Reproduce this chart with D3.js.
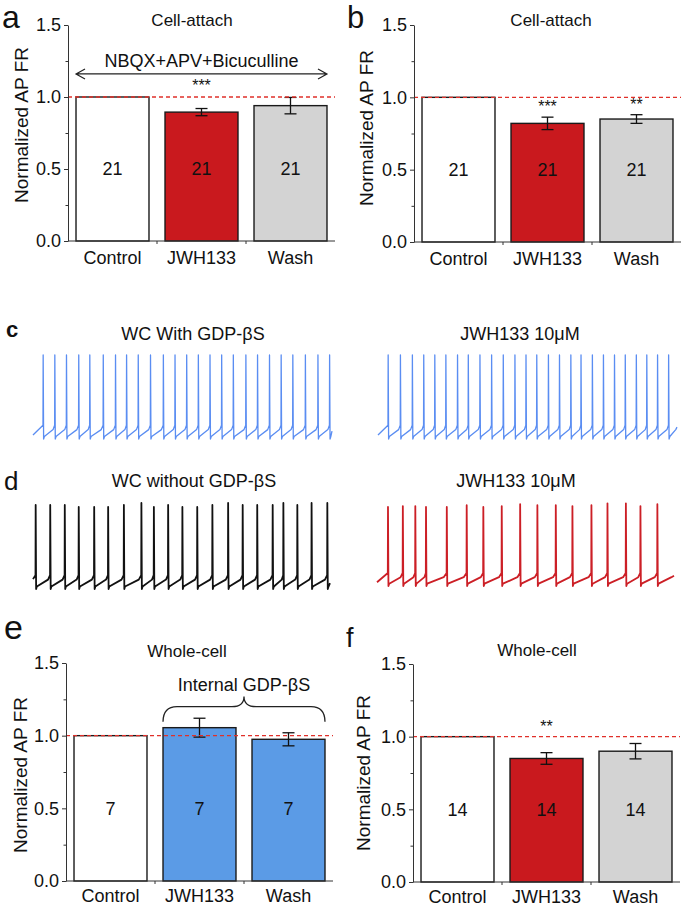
<!DOCTYPE html>
<html>
<head>
<meta charset="utf-8">
<script src="https://cdn.jsdelivr.net/npm/d3@7"></script>
<style>
  body { margin: 0; background: #fff; }
  svg text { font-family: "Liberation Sans", Arial, sans-serif; fill: #111; }
</style>
</head>
<body>
<svg id="fig" width="689" height="909"></svg>
<script>
// ---- data ----
const categories = ["Control", "JWH133", "Wash"];
const yTicks = [0, 0.5, 1.0, 1.5];
const yMinorTicks = [0.25, 0.75, 1.25];

// a: cell-attach with synaptic blockers
const meanA = [1, 0.895, 0.94];
const semA = [0, 0.025, 0.057];
const nA = [21, 21, 21];
const starsA = ["", "***", ""];
// b: cell-attach
const meanB = [1, 0.82, 0.85];
const semB = [0, 0.043, 0.03];
const nB = [21, 21, 21];
const starsB = ["", "***", "**"];
// e: whole-cell, internal GDP-bS
const meanE = [1, 1.055, 0.975];
const semE = [0, 0.065, 0.045];
const nE = [7, 7, 7];
const starsE = ["", "", ""];
// f: whole-cell
const meanF = [1, 0.85, 0.90];
const semF = [0, 0.04, 0.053];
const nF = [14, 14, 14];
const starsF = ["", "**", ""];

// spike times (s) in the 10 s example traces
const traceDur = 10;
const spikesC1 = [0.34, 0.73, 1.12, 1.53, 1.90, 2.35, 2.76, 3.13, 3.52, 3.93, 4.36, 4.75, 5.14,
  5.53, 5.92, 6.31, 6.70, 7.12, 7.51, 7.91, 8.30, 8.69, 9.11, 9.53, 9.92];
const spikesC2 = [0.34, 0.75, 1.15, 1.53, 1.90, 2.27, 2.66, 3.02, 3.41, 3.80, 4.19, 4.58, 4.95,
  5.31, 5.70, 6.07, 6.45, 6.79, 7.17, 7.54, 7.91, 8.27, 8.64, 8.99, 9.35, 9.72];
const spikesD1 = [0.09, 0.58, 1.07, 1.54, 2.06, 2.53, 3.06, 3.65, 4.07, 4.55, 5.03, 5.53, 6.04,
  6.57, 7.06, 7.55, 8.07, 8.43, 8.90, 9.38, 9.91];
const peaksD1 = [25, 25, 25, 23, 23, 23, 25, 27, 23, 25, 23, 23, 25, 27, 25, 25, 25, 27, 25, 27, 27];
const spikesD2 = [0.37, 0.87, 1.29, 1.65, 2.35, 3.02, 3.58, 4.20, 4.82, 5.40, 6.02, 6.58, 7.22,
  7.76, 8.38, 8.87, 9.44];
const peaksD2 = [25, 26, 26, 25, 25, 27, 25, 26, 28, 27, 27, 26, 27, 29, 29, 26, 28];

const red = "#c9191e", gray = "#d3d3d3", blue = "#5b9be6";

const svg = d3.select("#fig");

function letter(txt, x, y, size, weight) {
  svg.append("text").attr("x", x).attr("y", y)
    .style("font-size", size + "px").style("font-weight", weight || "normal").text(txt);
}

function barPanel(o) {
  const g = svg.append("g");
  const x = d3.scaleBand().domain(categories)
    .range([o.x0, o.x0 + 267]).paddingInner(0.18).paddingOuter(0.09);
  const y = d3.scaleLinear().domain([0, 1.5]).range([o.yBot, o.yTop]);
  const bw = x.bandwidth();

  g.selectAll("rect.bar").data(o.mean).join("rect")
    .attr("x", (d, i) => x(categories[i]))
    .attr("y", d => y(d))
    .attr("width", bw)
    .attr("height", d => y(0) - y(d))
    .attr("fill", (d, i) => o.fills[i])
    .attr("stroke", "#1a1a1a").attr("stroke-width", 1.4);

  // error bars (no bar for the normalised control)
  o.mean.forEach((m, i) => {
    if (!o.sem[i]) return;
    const cx = x(categories[i]) + bw / 2;
    const top = y(m + o.sem[i]), bot = y(m - o.sem[i]);
    g.append("line").attr("x1", cx).attr("x2", cx).attr("y1", top).attr("y2", bot)
      .attr("stroke", "#111").attr("stroke-width", 1.3);
    [top, bot].forEach(yy => g.append("line")
      .attr("x1", cx - 6).attr("x2", cx + 6).attr("y1", yy).attr("y2", yy)
      .attr("stroke", "#111").attr("stroke-width", 1.3));
    if (o.stars[i]) {
      g.append("text").attr("x", cx).attr("y", o.starY ? y(o.starY) : top - 5)
        .attr("text-anchor", "middle").style("font-size", "16px").text(o.stars[i]);
    }
  });

  // n inside bars
  g.selectAll("text.n").data(o.n).join("text")
    .attr("x", (d, i) => x(categories[i]) + bw / 2)
    .attr("y", y(0.5)).attr("dy", "0.35em")
    .attr("text-anchor", "middle").style("font-size", "18px").text(d => d);

  // reference line at 1.0
  g.append("line").attr("x1", o.x0).attr("x2", o.x0 + 267)
    .attr("y1", y(1)).attr("y2", y(1))
    .attr("stroke", "#e0302a").attr("stroke-width", 1.3).attr("stroke-dasharray", "4,3");

  // y axis
  g.append("g").attr("transform", `translate(${o.x0},0)`)
    .call(d3.axisLeft(y).tickValues(yTicks).tickFormat(d3.format(".1f"))
      .tickSize(4).tickPadding(3).tickSizeOuter(0));
  g.append("g").attr("transform", `translate(${o.x0},0)`)
    .call(d3.axisLeft(y).tickValues(yMinorTicks).tickFormat("").tickSize(2.5).tickSizeOuter(0))
    .select(".domain").remove();
  // x axis
  const xa = g.append("g").attr("transform", `translate(0,${o.yBot})`)
    .call(d3.axisBottom(x).tickSize(0).tickPadding(o.xPad).tickSizeOuter(0));
  xa.select(".domain").attr("d", `M${o.x0},0H${o.x0 + 267}`);
  categories.slice(1).forEach(c => {
    const bx = x(c) - x.step() * x.paddingInner() / 2;
    xa.append("line").attr("x1", bx).attr("x2", bx).attr("y1", 0).attr("y2", 3)
      .attr("stroke", "#333");
  });
  g.selectAll(".domain, .tick line").attr("stroke", "#333");
  g.selectAll(".tick text").style("font-size", "18px").attr("fill", "#111");

  // y label and title
  g.append("text")
    .attr("transform", `translate(${o.labX},${o.labY}) rotate(-90)`)
    .attr("text-anchor", "middle").attr("dy", "0.35em")
    .style("font-size", "19px").text("Normalized AP FR");
  g.append("text").attr("x", o.titleX).attr("y", o.titleY)
    .attr("text-anchor", "middle").style("font-size", "17px").text(o.title);

  return { g, x, y, bw };
}

function trace(o) {
  const x = d3.scaleLinear().domain([0, traceDur]).range([o.x0, o.x1]);
  const v = d3.scaleLinear().domain([-60, 25]).range([o.yTrough, o.yPeak]);
  const thr = -46;
  const pts = [[0, o.startV]];
  o.spikes.forEach((t, i) => {
    const next = i + 1 < o.spikes.length ? o.spikes[i + 1] : traceDur;
    pts.push([t - 0.006, thr]);
    pts.push([t, o.peaks ? o.peaks[i] : 25]);
    pts.push([t + 0.015, -60]);
    pts.push([t + 0.04, -57.5]);
    if (next - t > 0.2) pts.push([t + (next - t) * 0.85, -50.5]);
    if (i + 1 === o.spikes.length) pts.push([traceDur, o.endV]);
  });
  svg.append("path").datum(pts)
    .attr("d", d3.line().x(d => x(d[0])).y(d => v(d[1])))
    .attr("fill", "none").attr("stroke", o.color)
    .attr("stroke-width", o.width).attr("stroke-linejoin", "round");
  svg.append("text").attr("x", o.titleX).attr("y", o.titleY)
    .attr("text-anchor", "middle").style("font-size", "18px").text(o.title);
}

// ---- panel a ----
const pa = barPanel({ x0: 68, yTop: 25, yBot: 241, mean: meanA, sem: semA, n: nA, stars: starsA,
  starY: 1.04, fills: ["#fff", red, gray], xPad: 10, labX: 21, labY: 125,
  title: "Cell-attach", titleX: 192, titleY: 26 });
{
  const l = pa.x("Control"), r = pa.x("Wash") + pa.bw, ay = pa.y(1.16);
  pa.g.append("path")
    .attr("d", `M${l},${ay}H${r}M${l + 9},${ay - 5}L${l},${ay}L${l + 9},${ay + 5}M${r - 9},${ay - 5}L${r},${ay}L${r - 9},${ay + 5}`)
    .attr("fill", "none").attr("stroke", "#222").attr("stroke-width", 1.2);
  pa.g.append("text").attr("x", (l + r) / 2).attr("y", pa.y(1.21))
    .attr("text-anchor", "middle").style("font-size", "18px").text("NBQX+APV+Bicuculline");
}
letter("a", 2, 28, 32);

// ---- panel b ----
barPanel({ x0: 414, yTop: 25, yBot: 242, mean: meanB, sem: semB, n: nB, stars: starsB,
  fills: ["#fff", red, gray], xPad: 10, labX: 366, labY: 128,
  title: "Cell-attach", titleX: 551, titleY: 26 });
letter("b", 347, 28, 31);

// ---- panel c ----
trace({ x0: 33, x1: 332, yTrough: 439, yPeak: 355, spikes: spikesC1, color: "#5a8df2", width: 1.3,
  startV: -56, endV: -52, title: "WC With GDP-βS", titleX: 193, titleY: 340 });
trace({ x0: 378, x1: 677, yTrough: 439, yPeak: 355, spikes: spikesC2, color: "#5a8df2", width: 1.3,
  startV: -56, endV: -48, title: "JWH133 10μM", titleX: 520, titleY: 340 });
letter("c", 6, 337, 22, "bold");

// ---- panel d ----
trace({ x0: 33, x1: 330, yTrough: 589, yPeak: 505, spikes: spikesD1, peaks: peaksD1, color: "#111", width: 1.8,
  startV: -50, endV: -54, title: "WC without GDP-βS", titleX: 194, titleY: 487 });
trace({ x0: 377, x1: 674, yTrough: 586, yPeak: 507, spikes: spikesD2, peaks: peaksD2, color: "#cc1f26", width: 1.8,
  startV: -56, endV: -49, title: "JWH133 10μM", titleX: 516, titleY: 487 });
letter("d", 4, 490, 26);

// ---- panel e ----
const pe = barPanel({ x0: 66, yTop: 663, yBot: 881, mean: meanE, sem: semE, n: nE, stars: starsE,
  fills: ["#fff", blue, blue], xPad: 8, labX: 20, labY: 775,
  title: "Whole-cell", titleX: 187, titleY: 657 });
{
  const l = pe.x("JWH133"), r = pe.x("Wash") + pe.bw, m = (l + r) / 2;
  const yb = pe.y(1.2), ye = pe.y(1.095), yp = pe.y(1.27);
  pe.g.append("path")
    .attr("d", `M${l},${ye}Q${l},${yb} ${l + 14},${yb}H${m - 12}Q${m},${yb} ${m},${yp}Q${m},${yb} ${m + 12},${yb}H${r - 14}Q${r},${yb} ${r},${ye}`)
    .attr("fill", "none").attr("stroke", "#222").attr("stroke-width", 1.3);
  pe.g.append("text").attr("x", m).attr("y", pe.y(1.31))
    .attr("text-anchor", "middle").style("font-size", "18px").text("Internal GDP-βS");
}
letter("e", 4, 639, 34);

// ---- panel f ----
barPanel({ x0: 413, yTop: 664, yBot: 882, mean: meanF, sem: semF, n: nF, stars: starsF,
  starY: 1.03, fills: ["#fff", red, gray], xPad: 8, labX: 363, labY: 773,
  title: "Whole-cell", titleX: 537, titleY: 656 });
letter("f", 346, 647, 27);
</script>
</body>
</html>
